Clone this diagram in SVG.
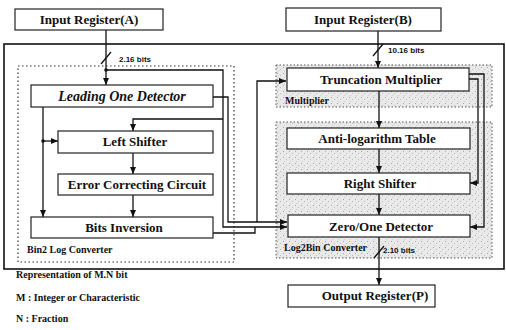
<svg xmlns="http://www.w3.org/2000/svg" width="506" height="330" viewBox="0 0 506 330" font-family="'Liberation Serif', 'Times New Roman', 'DejaVu Serif', serif">
<style>
text{font-family:'Liberation Serif','Times New Roman','DejaVu Serif',serif}
.box{fill:#fff;stroke:#222;stroke-width:1.2}
.t{font-weight:bold;font-size:13px;fill:#111;text-anchor:middle}
.ti{font-style:italic;font-size:14px}
.s{font-weight:bold;font-size:10px;fill:#111}
text.b{font-family:'Liberation Sans','DejaVu Sans',sans-serif;font-weight:bold;font-size:8px;fill:#111}
.c{fill:none;stroke:#111;stroke-width:1.3}
.d{fill:none;stroke:#333;stroke-width:1.2;stroke-dasharray:1.5 2.5}
</style>
<defs>
<marker id="a" markerWidth="8" markerHeight="8" refX="7" refY="4" orient="auto" markerUnits="userSpaceOnUse">
<path d="M0,1 L7,4 L0,7 Z" fill="#111"/>
</marker>
<pattern id="g" width="6" height="6" patternUnits="userSpaceOnUse">
<rect width="6" height="6" fill="#e9e9e9"/>
<rect x="1" y="1" width="1" height="1" fill="#a8a8a8"/>
<rect x="4" y="3" width="1" height="1" fill="#bdbdbd"/>
<rect x="2" y="5" width="1" height="1" fill="#cccccc"/>
</pattern>
</defs>

<g id="frames">
<rect x="4" y="44" width="500" height="225" fill="none" stroke="#111" stroke-width="1.6"/>
<rect x="18" y="66" width="216" height="196" class="d"/>
<rect x="276" y="65" width="216" height="42" fill="url(#g)" stroke="#555" stroke-width="1" stroke-dasharray="1.5 2"/>
<rect x="276" y="122" width="216" height="136" fill="url(#g)" stroke="#555" stroke-width="1" stroke-dasharray="1.5 2"/>
<text class="s" x="27" y="253">Bin2 Log Converter</text>
<text class="s" x="285" y="104">Multiplier</text>
<text class="s" x="284" y="251">Log2Bin Converter</text>
</g>

<g id="connectors">
<path class="c" d="M106,30 V85" marker-end="url(#a)"/>
<path class="c" d="M101,64 L111,52"/>
<text class="b" x="119" y="62">2.16 bits</text>
<circle cx="106" cy="70" r="1.8" fill="#111"/>
<path class="c" d="M106,70 H223 V227 H287" marker-end="url(#a)"/>
<path class="c" d="M223,119 H133 V131" marker-end="url(#a)"/>
<path class="c" d="M213,97 H228 V222 H287" marker-end="url(#a)"/>
<path class="c" d="M257,222 V81 H286" marker-end="url(#a)"/>
<path class="c" d="M213,233 H255 V227"/>
<path class="c" d="M43,107 V217" marker-end="url(#a)"/>
<circle cx="43" cy="141" r="1.8" fill="#111"/>
<path class="c" d="M43,141 H58" marker-end="url(#a)"/>
<path class="c" d="M133,153 V174" marker-end="url(#a)"/>
<path class="c" d="M133,195 V217" marker-end="url(#a)"/>
<path class="c" d="M378,31 V68" marker-end="url(#a)"/>
<path class="c" d="M373,56 L383,44"/>
<text class="b" x="388" y="53">10.16 bits</text>
<path class="c" d="M379,91 V128" marker-end="url(#a)"/>
<path class="c" d="M379,149 V173" marker-end="url(#a)"/>
<path class="c" d="M379,194 V215" marker-end="url(#a)"/>
<path class="c" d="M469,74 H484 V227 H470" marker-end="url(#a)"/>
<path class="c" d="M469,79 H478 V183 H470" marker-end="url(#a)"/>
<path class="c" d="M379,237 V285" marker-end="url(#a)"/>
<path class="c" d="M374,258 L384,246"/>
<text class="b" x="383" y="253">2.10 bits</text>
</g>

<g id="inA"><rect class="box" x="15" y="9" width="148" height="21"/><text class="t" x="89" y="24">Input Register(A)</text></g>
<g id="inB"><rect class="box" x="286" y="8" width="155" height="23"/><text class="t" x="363" y="24">Input Register(B)</text></g>
<g id="lod"><rect class="box" x="31" y="85" width="182" height="22"/><text class="t ti" x="122" y="101">Leading One Detector</text></g>
<g id="ls"><rect class="box" x="58" y="131" width="155" height="22"/><text class="t" x="135" y="146">Left Shifter</text></g>
<g id="ecc"><rect class="box" x="58" y="174" width="155" height="21"/><text class="t" x="137" y="189">Error Correcting Circuit</text></g>
<g id="bi"><rect class="box" x="31" y="217" width="182" height="21"/><text class="t" x="124" y="232">Bits Inversion</text></g>
<g id="tm"><rect class="box" x="287" y="68" width="182" height="23"/><text class="t" x="381" y="84">Truncation Multiplier</text></g>
<g id="alt"><rect class="box" x="287" y="128" width="183" height="21"/><text class="t" x="377" y="143">Anti-logarithm Table</text></g>
<g id="rs"><rect class="box" x="287" y="173" width="183" height="21"/><text class="t" x="380" y="188">Right Shifter</text></g>
<g id="zod"><rect class="box" x="288" y="215" width="182" height="22"/><text class="t" x="381" y="231">Zero/One Detector</text></g>
<g id="out"><rect class="box" x="288" y="285" width="147" height="22"/><text class="t" x="375" y="300">Output Register(P)</text></g>

<g id="notes">
<text class="s" x="16" y="278" font-size="10.5">Representation of M.N bit</text>
<text class="s" x="16" y="301">M : Integer or Characteristic</text>
<text class="s" x="16" y="322">N : Fraction</text>
</g>
</svg>
